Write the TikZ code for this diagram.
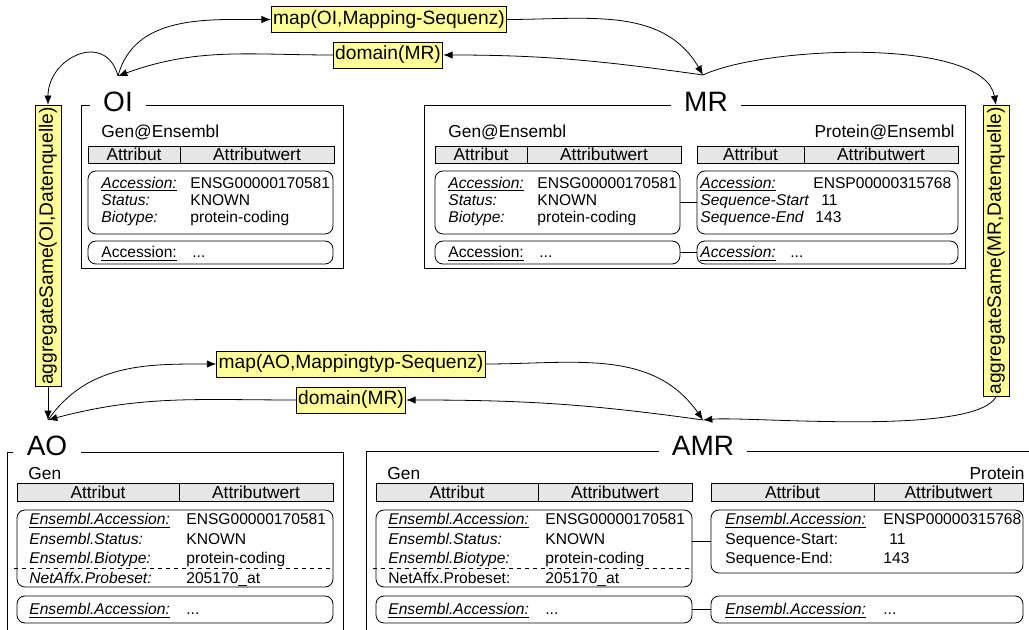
\documentclass[tikz,border=0pt]{standalone}
\usepackage{fontspec}
\setmainfont{Liberation Sans}
\usetikzlibrary{arrows.meta,positioning}
\definecolor{labelyellow}{RGB}{255,255,153}
\definecolor{headgray}{RGB}{230,230,230}
\newcommand\fbody{\fontsize{11.7}{13}\selectfont}
\newcommand\fhead{\fontsize{13}{14}\selectfont}
\newcommand\flab{\fontsize{14.4}{16}\selectfont}
\newcommand\ftitle{\fontsize{21}{24}\selectfont}
\def\px{0.75pt}

\begin{document}
\begin{tikzpicture}[x=0.75pt,y=-0.75pt,line width=0.6pt,
  ttl/.style={fill=white,inner xsep=10pt,inner ysep=1pt,font=\ftitle},
  lbl/.style={draw,fill=labelyellow,inner xsep=1.5pt,inner ysep=3pt,font=\flab},
  hdr/.style={draw,fill=headgray,inner sep=0pt,font=\fhead},
  rec/.style={draw,rounded corners=6pt,inner sep=0pt},
  captxt/.style={inner sep=0pt,font=\fhead},
  txt/.style={anchor=base west,inner sep=0pt,font=\fbody},
  arr/.style={-{Latex[length=7pt,width=5.5pt]}}]
  \useasboundingbox (0,0) rectangle (1029,630);

  %Frames of the four sets
  \draw (81,105) -- (343,105) -- (343,268) -- (81,268) -- cycle;
  \draw (424,105) -- (965,105) -- (965,268) -- (424,268) -- cycle;
  \draw (7,630) -- (7,452) -- (343,452) -- (343,630);
  \draw (366,630) -- (366,451) -- (1029,451);
  \node[ttl] (tOI) at (118,102) {OI};
  \node[ttl] (tMR) at (706,102) {MR};
  \node[ttl] (tAO) at (47,446) {AO};
  \node[ttl] (tAMR) at (703,446) {AMR};

  %Gen@Ensembl in OI and MR
  \foreach \gx/\nm in {0/oi,347/mr}
  {
    \node[captxt,anchor=base west] (\nm-gen) at ({\gx+101},138) {Gen@Ensembl};
    \node[hdr,minimum width=92*\px,minimum height=17*\px] (\nm-hda) at ({\gx+134},154.5) {Attribut};
    \node[hdr,minimum width=154*\px,minimum height=17*\px] (\nm-hdb) at ({\gx+257},154.5) {Attributwert};
    \node[rec,minimum width=245*\px,minimum height=63*\px] (\nm-rec) at ({\gx+210.5},202.5) {};
    \node[rec,minimum width=245*\px,minimum height=23*\px] (\nm-more) at ({\gx+210.5},252.5) {};
    \foreach \lab/\val [count=\r] in {\underline{Accession:}/ENSG00000170581,Status:/KNOWN,Biotype:/protein-coding}
    {
      \node[txt] at ({\gx+101},{171.5+17*\r}) {\itshape\lab};
      \node[txt] at ({\gx+190},{171.5+17*\r}) {\val};
    }
    \node[txt] at ({\gx+101},258) {\underline{Accession:}};
    \node[txt] at ({\gx+192},258) {...};
  }

  %Protein@Ensembl in MR
  \node[captxt,anchor=base east] (mr-pgen) at (955,138) {Protein@Ensembl};
  \node[hdr,minimum width=107*\px,minimum height=17*\px] (mr-phda) at (750.5,154.5) {Attribut};
  \node[hdr,minimum width=154*\px,minimum height=17*\px] (mr-phdb) at (881,154.5) {Attributwert};
  \node[rec,minimum width=261*\px,minimum height=63*\px] (mr-prec) at (827.5,202.5) {};
  \node[rec,minimum width=261*\px,minimum height=23*\px] (mr-pmore) at (827.5,252.5) {};
  \node[txt] at (700,188.5) {\itshape\underline{Accession:}};
  \node[txt] at (813,188.5) {ENSP00000315768};
  \node[txt] at (700,205.5) {\itshape Sequence-Start};
  \node[txt] at (821,205.5) {11};
  \node[txt] at (700,222.5) {\itshape Sequence-End};
  \node[txt] at (815,222.5) {143};
  \node[txt] at (700,258) {\itshape\underline{Accession:}};
  \node[txt] at (790,258) {...};
  \draw (mr-rec.east) -- (mr-prec.west);
  \draw (mr-more.east) -- (mr-pmore.west);

  %Gen in AO and AMR
  \foreach \gx/\nm/\nf in {0/ao/\itshape,359/amr/\upshape}
  {
    \node[captxt,anchor=base west] (\nm-gen) at ({\gx+28},480) {Gen};
    \node[hdr,minimum width=162*\px,minimum height=18*\px] (\nm-hda) at ({\gx+98},492) {Attribut};
    \node[hdr,minimum width=154*\px,minimum height=18*\px] (\nm-hdb) at ({\gx+256},492) {Attributwert};
    \node[rec,minimum width=316*\px,minimum height=77*\px] (\nm-rec) at ({\gx+175},548.5) {};
    \node[rec,minimum width=316*\px,minimum height=27*\px] (\nm-more) at ({\gx+175},609.5) {};
    \foreach \lab/\val/\y in {\underline{Ensembl.Accession:}/ENSG00000170581/525,Ensembl.Status:/KNOWN/544.5,Ensembl.Biotype:/protein-coding/564}
    {
      \node[txt] at ({\gx+29},\y) {\itshape\lab};
      \node[txt] at ({\gx+186},\y) {\val};
    }
    \draw[dashed] ({\gx+14},568) -- ({\gx+331},568);
    \node[txt] at ({\gx+29},583.5) {\nf NetAffx.Probeset:};
    \node[txt] at ({\gx+186},583.5) {205170\_at};
    \node[txt] at ({\gx+29},615) {\itshape\underline{Ensembl.Accession:}};
    \node[txt] at ({\gx+186},615) {...};
  }

  %Protein in AMR
  \node[captxt,anchor=base east] (amr-pgen) at (1025,480) {Protein};
  \node[hdr,minimum width=163*\px,minimum height=18*\px] (amr-phda) at (792.5,492) {Attribut};
  \node[hdr,minimum width=149*\px,minimum height=18*\px] (amr-phdb) at (948.5,492) {Attributwert};
  \node[rec,minimum width=312*\px,minimum height=63*\px] (amr-prec) at (867,541.5) {};
  \node[rec,minimum width=312*\px,minimum height=27*\px] (amr-pmore) at (867,609.5) {};
  \node[txt] at (725,525) {\itshape\underline{Ensembl.Accession:}};
  \node[txt] at (883,525) {ENSP00000315768};
  \node[txt] at (725,544.5) {Sequence-Start:};
  \node[txt] at (889,544.5) {11};
  \node[txt] at (725,564) {Sequence-End:};
  \node[txt] at (883,564) {143};
  \node[txt] at (725,615) {\itshape\underline{Ensembl.Accession:}};
  \node[txt] at (883,615) {...};
  \draw (amr-rec.east |- amr-prec.west) -- (amr-prec.west);
  \draw (amr-more.east) -- (amr-pmore.west);

  %Operators
  \coordinate (oiP) at (118,76);
  \coordinate (mrP) at (703,75);
  \coordinate (aoP) at (48,420);
  \coordinate (amrP) at (703,420);
  \node[lbl] (map1) at (389,19.5) {map(OI,Mapping-Sequenz)};
  \node[lbl] (dom1) at (388,55) {domain(MR)};
  \node[lbl] (map2) at (351,364) {map(AO,Mappingtyp-Sequenz)};
  \node[lbl] (dom2) at (351,400) {domain(MR)};
  \node[lbl,rotate=90] (agg1) at (48,246) {aggregateSame(OI,Datenquelle)};
  \node[lbl,rotate=90] (agg2) at (996,251) {aggregateSame(MR,Datenquelle)};

  \draw[arr] (oiP) to[out=75,in=180] (map1.west);
  \draw[arr] (map1.east) to[out=0,in=120] (mrP);
  \draw[arr] (mrP) to[out=172,in=0] (dom1.east);
  \draw[arr] (dom1.west) to[out=180,in=20] (oiP);
  \draw[arr] (oiP) to[out=105,in=90,looseness=1.6] (agg1.east);
  \draw[arr] (mrP) to[out=25,in=100,looseness=0.6] (agg2.east);

  \draw[arr] (aoP) to[out=55,in=180] (map2.west);
  \draw[arr] (map2.east) to[out=0,in=125] (amrP);
  \draw[arr] (amrP) to[out=172,in=0] (dom2.east);
  \draw[arr] (dom2.west) to[out=180,in=15] (aoP);
  \draw[arr] (agg1.west) -- (aoP);
  \draw[arr] (agg2.west) to[out=-120,in=5,looseness=0.4] (amrP);
\end{tikzpicture}
\end{document}
